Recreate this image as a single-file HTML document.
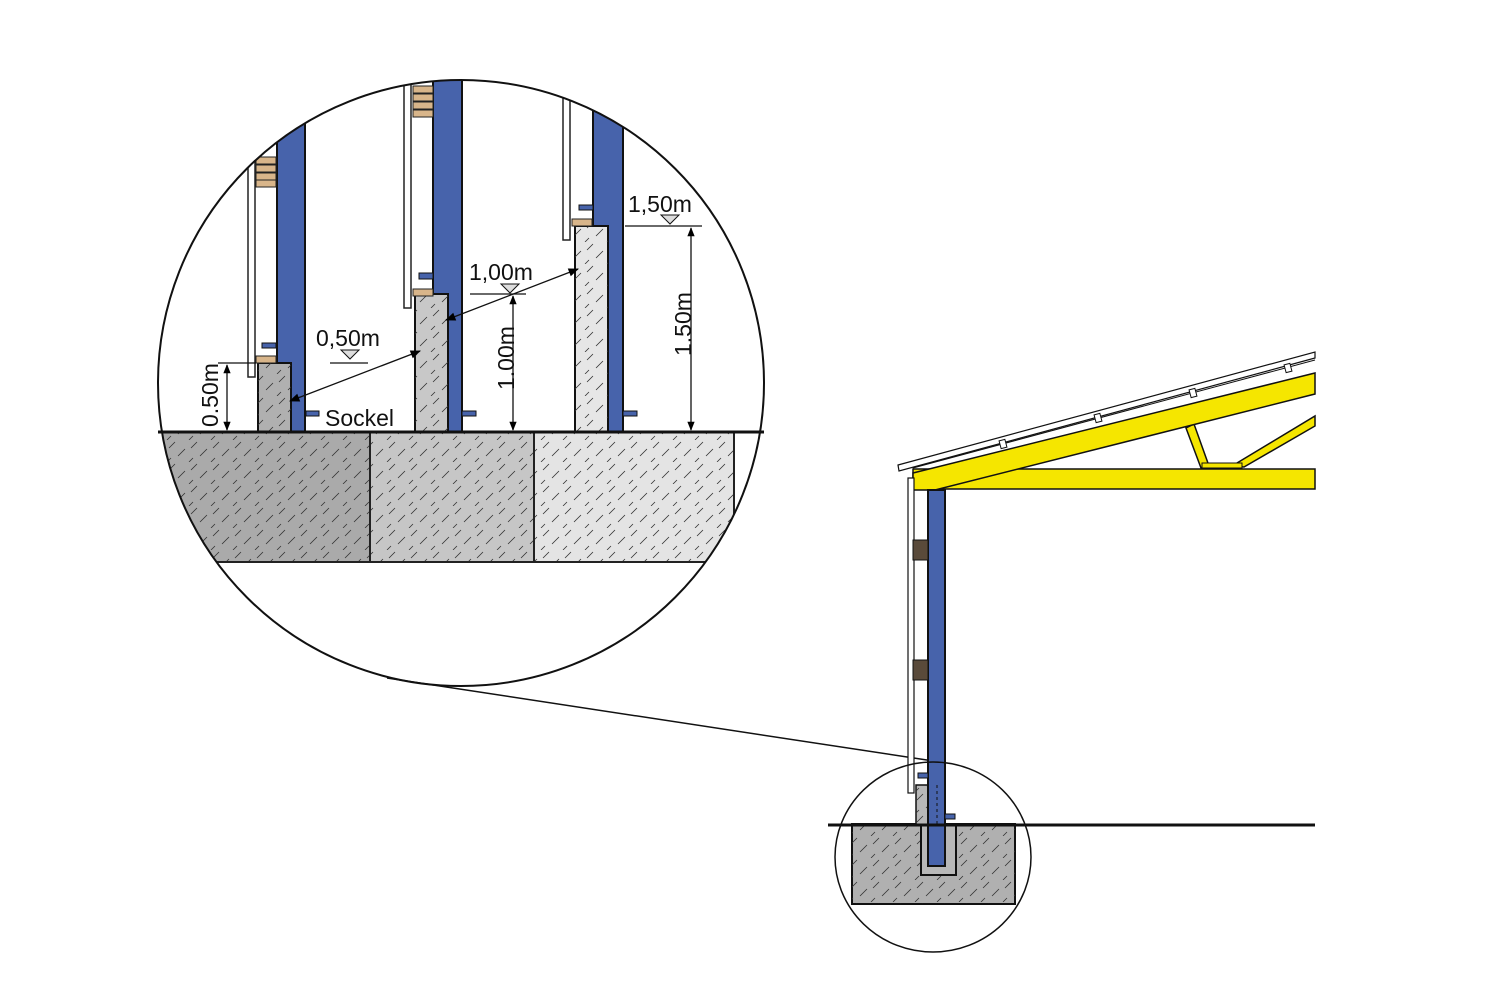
<!DOCTYPE html>
<html><head><meta charset="utf-8"><style>html,body{margin:0;padding:0;background:#fff}svg{display:block}</style></head>
<body>
<svg width="1500" height="1000" viewBox="0 0 1500 1000" xmlns="http://www.w3.org/2000/svg" font-family="Liberation Sans Narrow, Liberation Sans, sans-serif">
<defs>
<pattern id="h" width="22" height="22" patternUnits="userSpaceOnUse">
<path d="M2 16 L9 9 M13 22 L17 18 M15 8 L21 2" stroke="#333" stroke-width="0.8"/>
</pattern>
<clipPath id="c"><circle cx="461" cy="383" r="303"/></clipPath>
<marker id="a" viewBox="0 0 10 10" refX="9" refY="5" markerWidth="10" markerHeight="8" orient="auto-start-reverse"><path d="M0 1 L10 5 L0 9z" fill="#000"/></marker>
<marker id="v" viewBox="0 0 10 10" refX="9" refY="5" markerWidth="12" markerHeight="7" orient="auto-start-reverse"><path d="M0 1 L10 5 L0 9z" fill="#000"/></marker>
<g id="wood"><rect width="20" height="7" fill="#d8b58a" stroke="#222" stroke-width="1"/></g>
</defs>
<g clip-path="url(#c)">
 <rect x="150" y="432" width="220" height="130" fill="#aaa"/><rect x="150" y="432" width="220" height="130" fill="url(#h)"/>
 <rect x="370" y="432" width="164" height="130" fill="#c6c6c6"/><rect x="370" y="432" width="164" height="130" fill="url(#h)"/>
 <rect x="534" y="432" width="200" height="130" fill="#e4e4e4"/><rect x="534" y="432" width="200" height="130" fill="url(#h)"/>
 <g stroke="#222" stroke-width="2" fill="none"><line x1="370" y1="432" x2="370" y2="562"/><line x1="534" y1="432" x2="534" y2="562"/><line x1="734" y1="432" x2="734" y2="562"/><line x1="150" y1="562" x2="770" y2="562"/></g>
 <rect x="277" y="60" width="28" height="372" fill="#4763ab" stroke="#111" stroke-width="2"/>
 <rect x="258" y="363" width="33" height="69" fill="#b0b0b0" stroke="#111" stroke-width="2"/><rect x="258" y="363" width="33" height="69" fill="url(#h)"/>
 <rect x="248" y="100" width="7" height="277" fill="#fff" stroke="#222" stroke-width="1.5"/>
 <use href="#wood" x="256" y="157"/><use href="#wood" x="256" y="165"/><use href="#wood" x="256" y="173"/><use href="#wood" x="256" y="180"/><use href="#wood" x="256" y="356"/>
 <rect x="262" y="343" width="14" height="5" fill="#4763ab" stroke="#111"/>
 <rect x="306" y="411" width="13" height="5" fill="#4763ab" stroke="#111"/>
 <rect x="433" y="60" width="29" height="372" fill="#4763ab" stroke="#111" stroke-width="2"/>
 <rect x="415" y="294" width="33" height="138" fill="#c8c8c8" stroke="#111" stroke-width="2"/><rect x="415" y="294" width="33" height="138" fill="url(#h)"/>
 <rect x="404" y="60" width="7" height="248" fill="#fff" stroke="#222" stroke-width="1.5"/>
 <use href="#wood" x="413" y="86"/><use href="#wood" x="413" y="94"/><use href="#wood" x="413" y="102"/><use href="#wood" x="413" y="110"/><use href="#wood" x="413" y="289"/>
 <rect x="419" y="273" width="14" height="6" fill="#4763ab" stroke="#111"/>
 <rect x="462" y="411" width="14" height="5" fill="#4763ab" stroke="#111"/>
 <rect x="593" y="60" width="30" height="372" fill="#4763ab" stroke="#111" stroke-width="2"/>
 <rect x="575" y="226" width="33" height="206" fill="#e6e6e6" stroke="#111" stroke-width="2"/><rect x="575" y="226" width="33" height="206" fill="url(#h)"/>
 <rect x="563" y="98" width="7" height="142" fill="#fff" stroke="#222" stroke-width="1.5"/>
 <use href="#wood" x="572" y="219"/>
 <rect x="579" y="205" width="14" height="5" fill="#4763ab" stroke="#111"/>
 <rect x="623" y="411" width="14" height="5" fill="#4763ab" stroke="#111"/>
</g>
<line x1="158" y1="432" x2="764" y2="432" stroke="#111" stroke-width="3"/>
<circle cx="461" cy="383" r="303" fill="none" stroke="#111" stroke-width="2"/>
<g stroke="#111" stroke-width="1.3" fill="none">
 <line x1="218" y1="363" x2="256" y2="363"/><line x1="227" y1="365" x2="227" y2="430" marker-start="url(#v)" marker-end="url(#v)"/>
 <line x1="330" y1="363" x2="368" y2="363"/>
 <line x1="290" y1="401" x2="420" y2="351" marker-start="url(#a)" marker-end="url(#a)"/>
 <line x1="470" y1="294" x2="526" y2="294"/><line x1="513" y1="296" x2="513" y2="430" marker-start="url(#v)" marker-end="url(#v)"/>
 <line x1="446" y1="320" x2="578" y2="269" marker-start="url(#a)" marker-end="url(#a)"/>
 <line x1="625" y1="226" x2="702" y2="226"/><line x1="691" y1="228" x2="691" y2="430" marker-start="url(#v)" marker-end="url(#v)"/>
</g>
<g fill="#ddd" stroke="#111" stroke-width="1"><path d="M341 350 L359 350 L350 359z"/><path d="M501 284 L519 284 L510 293z"/><path d="M661 215 L679 215 L670 224z"/></g>
<g font-size="23" fill="#111">
 <text x="316" y="346">0,50m</text><text x="469" y="280">1,00m</text><text x="628" y="212">1,50m</text>
 <text x="325" y="426">Sockel</text>
 <text transform="translate(218,427) rotate(-90)">0.50m</text>
 <text transform="translate(514,390) rotate(-90)">1.00m</text>
 <text transform="translate(691,356) rotate(-90)">1.50m</text>
</g>
<line x1="387" y1="678" x2="940" y2="762" stroke="#111" stroke-width="1.5"/>
<polygon points="898,465 1315,352 1315,358 899,471" fill="#fff" stroke="#111" stroke-width="1.2"/>
<line x1="913" y1="468" x2="1315" y2="360" stroke="#111" stroke-width="1"/>
<g stroke="#111" fill="#fff"><rect x="1000" y="440" width="6" height="8" transform="rotate(-15 1003 444)"/><rect x="1095" y="414" width="6" height="8" transform="rotate(-15 1098 418)"/><rect x="1190" y="389" width="6" height="8" transform="rotate(-15 1193 393)"/><rect x="1285" y="364" width="6" height="8" transform="rotate(-15 1288 368)"/></g>
<polygon points="1186,428 1194,424 1209,466 1201,468" fill="#f5e600" stroke="#111" stroke-width="1.5"/>
<polygon points="1232,466 1315,416 1315,426 1244,467" fill="#f5e600" stroke="#111" stroke-width="1.5"/>
<rect x="1202" y="463" width="40" height="5" fill="#f5e600" stroke="#111"/>
<rect x="913" y="469" width="402" height="20" fill="#f5e600" stroke="#111" stroke-width="1.5"/>
<polygon points="913,473 1315,373 1315,394 935,490 913,490" fill="#f5e600" stroke="#111" stroke-width="1.5"/>
<rect x="908" y="478" width="6" height="315" fill="#fff" stroke="#111" stroke-width="1.2"/>
<rect x="852" y="824" width="163" height="80" fill="#b0b0b0" stroke="#111" stroke-width="2"/><rect x="852" y="824" width="163" height="80" fill="url(#h)"/>
<rect x="921" y="824" width="35" height="51" fill="#b8b8b8" stroke="#111" stroke-width="2"/>
<rect x="916" y="785" width="14" height="40" fill="#b8b8b8" stroke="#111" stroke-width="1.5"/><rect x="916" y="785" width="14" height="40" fill="url(#h)"/>
<rect x="928" y="490" width="17" height="376" fill="#4763ab" stroke="#111" stroke-width="2"/>
<rect x="913" y="540" width="15" height="20" fill="#5a4a3a" stroke="#111"/><rect x="913" y="660" width="15" height="20" fill="#5a4a3a" stroke="#111"/>
<rect x="918" y="773" width="10" height="5" fill="#4763ab" stroke="#111"/><rect x="945" y="814" width="10" height="5" fill="#4763ab" stroke="#111"/>
<line x1="937" y1="785" x2="937" y2="825" stroke="#111" stroke-dasharray="3 3"/>
<line x1="828" y1="825" x2="1315" y2="825" stroke="#111" stroke-width="3"/>
<ellipse cx="933" cy="857" rx="98" ry="95" fill="none" stroke="#111" stroke-width="1.5"/>
</svg>
</body></html>
